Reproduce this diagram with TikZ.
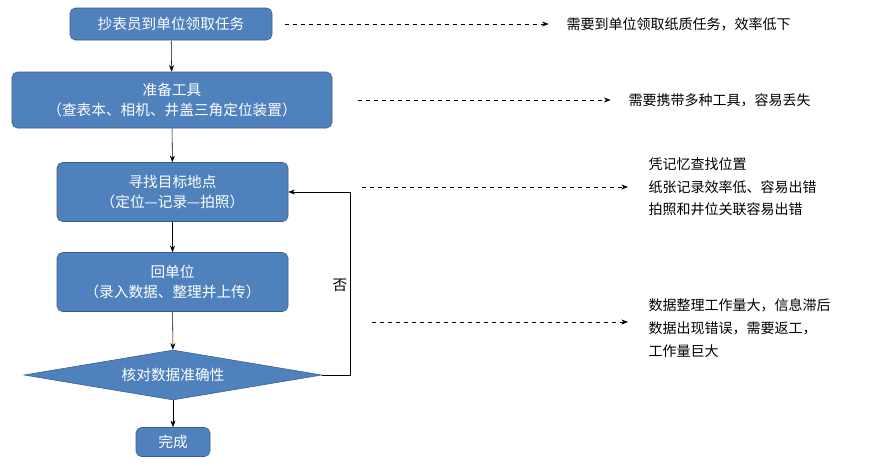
\documentclass[tikz,border=0pt]{standalone}
\usepackage{fontspec}
\setmainfont{Noto Sans CJK SC}
\usetikzlibrary{shapes.geometric,arrows.meta}
\definecolor{boxblue}{HTML}{4F81BD}
\definecolor{boxedge}{HTML}{385D8A}
\tikzset{
  stepbox/.style={draw=boxedge,fill=boxblue,rounded corners=4pt,text=white,
    align=center,font=\fontsize{11}{15}\selectfont,inner sep=0pt},
  flow/.style={-{Stealth[length=5pt]},thin},
  note/.style={-{Stealth[length=5pt]},dashed,thin},
  notetext/.style={anchor=west,align=left,font=\fontsize{10.5}{17}\selectfont}
}
\begin{document}
\begin{tikzpicture}[x=0.75pt,y=-0.75pt]
\useasboundingbox (0,0) rectangle (889,465);
\node[stepbox,minimum width=202*0.75pt,minimum height=32*0.75pt](a) at (171,24){抄表员到单位领取任务};
\node[stepbox,minimum width=320*0.75pt,minimum height=56*0.75pt](b) at (172,100){准备工具\\（查表本、相机、井盖三角定位装置）};
\node[stepbox,minimum width=231*0.75pt,minimum height=59*0.75pt](c) at (172.5,192){寻找目标地点\\（定位---记录---拍照）};
\node[stepbox,minimum width=231*0.75pt,minimum height=59*0.75pt](d) at (172.5,282){回单位\\（录入数据、整理并上传）};
\node[draw=boxedge,fill=boxblue,diamond,aspect=6,minimum width=298*0.75pt,minimum height=50*0.75pt,
  inner sep=0pt,text=white,font=\fontsize{11}{15}\selectfont](e) at (173,375){核对数据准确性};
\node[stepbox,minimum width=74*0.75pt,minimum height=29*0.75pt](f) at (173,442){完成};
\draw[flow] (a) -- (b);
\draw[flow] (b) -- (c);
\draw[flow] (c) -- (d);
\draw[flow] (d) -- (e);
\draw[flow] (e) -- (f);
\coordinate (loop) at (350,375);
\draw[flow] (e.east) -- (loop) |- (c.east);
\node[font=\fontsize{11}{13}\selectfont](no) at (340,285){否};
% annotations
\coordinate (n1) at (285,24);
\coordinate (n2) at (358,100);
\coordinate (n3) at (362,187);
\coordinate (n4) at (372,322);
\node[notetext](t1) at (562,24){需要到单位领取纸质任务，效率低下};
\node[notetext](t2) at (624,100){需要携带多种工具，容易丢失};
\node[notetext](t3) at (644,187){凭记忆查找位置\\纸张记录效率低、容易出错\\拍照和井位关联容易出错};
\node[notetext](t4) at (644,328){数据整理工作量大，信息滞后\\数据出现错误，需要返工，\\工作量巨大};
\draw[note] (n1) -- ([xshift=-10pt]t1.west);
\draw[note] (n2) -- ([xshift=-10pt]t2.west);
\draw[note] (n3) -- ([xshift=-12pt]t3.west);
\draw[note] (n4) -- ([xshift=-12pt,yshift=4.5pt]t4.west);
\end{tikzpicture}
\end{document}
